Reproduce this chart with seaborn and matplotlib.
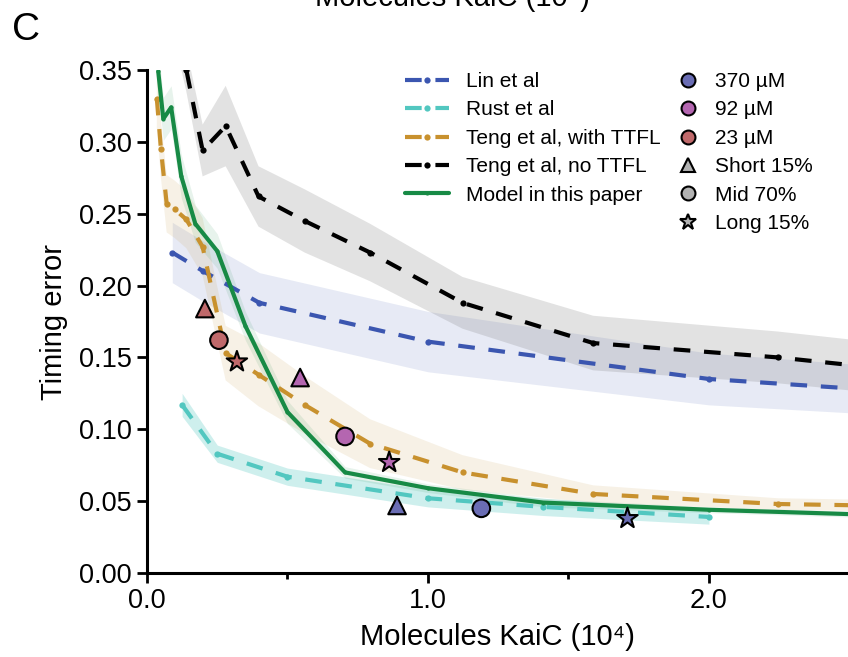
import numpy as np
import matplotlib
matplotlib.use("Agg")
import matplotlib.pyplot as plt
import seaborn as sns
from matplotlib.lines import Line2D

# Lin et al
lin_x = [0.09, 0.2, 0.4, 1.0, 2.0, 3.0]
lin_y = [0.223, 0.210, 0.188, 0.161, 0.135, 0.122]
lin_err = [0.021, 0.021, 0.021, 0.021, 0.018, 0.016]

# Rust et al
rust_x = [0.125, 0.25, 0.5, 1.0, 1.41, 2.0]
rust_y = [0.117, 0.083, 0.067, 0.052, 0.046, 0.039]
rust_err = [0.008, 0.006, 0.006, 0.006, 0.006, 0.005]

# Teng et al, with TTFL
ttfl_x = [0.035, 0.0496, 0.07, 0.099, 0.14, 0.198, 0.28, 0.397, 0.561, 0.794, 1.123, 1.588, 2.246, 3.175]
ttfl_y = [0.330, 0.295, 0.257, 0.253, 0.246, 0.227, 0.153, 0.138, 0.117, 0.090, 0.070, 0.055, 0.048, 0.045]
ttfl_err = [0.02, 0.02, 0.02, 0.02, 0.02, 0.02, 0.019, 0.022, 0.02, 0.017, 0.012, 0.006, 0.004, 0.004]

# Teng et al, no TTFL
nottfl_x = [0.099, 0.14, 0.198, 0.28, 0.397, 0.561, 0.794, 1.123, 1.588, 2.246, 3.175]
nottfl_y = [0.39, 0.350, 0.294, 0.311, 0.262, 0.245, 0.223, 0.188, 0.160, 0.150, 0.131]
nottfl_err = [0.02, 0.015, 0.018, 0.028, 0.021, 0.022, 0.02, 0.018, 0.019, 0.018, 0.017]

# Model in this paper
model_x = [0.04, 0.058, 0.086, 0.122, 0.172, 0.25, 0.35, 0.5, 0.705, 1.0, 1.41, 2.0, 2.83]
model_y = [0.349, 0.316, 0.324, 0.276, 0.243, 0.224, 0.172, 0.112, 0.070, 0.059, 0.049, 0.044, 0.039]
model_err = [0.015, 0.015, 0.015, 0.015, 0.013, 0.012, 0.01, 0.008, 0.004, 0.003, 0.003, 0.002, 0.002]

# experimental points
sc_conc = ["23 µM"] * 3 + ["92 µM"] * 3 + ["370 µM"] * 3
sc_len = ["Short 15%", "Mid 70%", "Long 15%"] * 3
sc_x = [0.206, 0.256, 0.32, 0.545, 0.705, 0.862, 0.89, 1.19, 1.71]
sc_y = [0.184, 0.162, 0.147, 0.136, 0.095, 0.077, 0.047, 0.045, 0.038]

conc_colors = {"370 µM": "#6a6db4", "92 µM": "#b466b0", "23 µM": "#c0696b"}
shape_map = {"Short 15%": "^", "Mid 70%": "o", "Long 15%": "*"}
shape_sizes = {"Short 15%": 160, "Mid 70%": 160, "Long 15%": 240}

sns.set_style("ticks", {"text.color": "black", "axes.labelcolor": "black",
                        "xtick.color": "black", "ytick.color": "black",
                        "axes.edgecolor": "black"})
plt.rcParams["font.family"] = ["Liberation Sans", "DejaVu Sans"]

fig = plt.figure(figsize=(8.48, 6.57), dpi=100)
ax = fig.add_axes([147 / 848, 84 / 657, 701 / 848, 503 / 657])

dash = (0, (4.0, 3.3))
series = [
    ("Lin et al", lin_x, lin_y, lin_err, "#3b56b0", "#3b56b0", 0.12, dash, 4.5),
    ("Rust et al", rust_x, rust_y, rust_err, "#52c7c0", "#52c7c0", 0.28, dash, 4.5),
    ("Teng et al, with TTFL", ttfl_x, ttfl_y, ttfl_err, "#c8912e", "#c8a050", 0.14, dash, 4.5),
    ("Teng et al, no TTFL", nottfl_x, nottfl_y, nottfl_err, "black", "#707070", 0.2, dash, 4.5),
    ("Model in this paper", model_x, model_y, model_err, "#178a45", "#178a45", 0.1, "-", 3),
]

handles = []
for label, x, y, err, col, bcol, alpha, ls, ms in series:
    x = np.array(x)
    y = np.array(y)
    e = np.array(err)
    ax.fill_between(x, y - e, y + e, color=bcol, alpha=alpha, lw=0, zorder=1)
    sns.lineplot(x=x, y=y, ax=ax, color=col, lw=3, linestyle=ls, marker="o",
                 ms=ms, mec=col, mew=0, errorbar=None, legend=False, zorder=2)
    handles.append(Line2D([], [], color=col, lw=3, linestyle=ls, marker="o",
                          ms=ms, mec=col, mew=0, label=label))

sns.scatterplot(x=sc_x, y=sc_y, hue=sc_conc, style=sc_len, size=sc_len,
                palette=conc_colors, markers=shape_map, sizes=shape_sizes,
                edgecolor="black", linewidth=1.5, legend=False, ax=ax, zorder=3)

ax.set_xlim(0, 2.495)
ax.set_ylim(0, 0.35)
ax.set_xticks([0, 1, 2])
ax.set_xticklabels(["0.0", "1.0", "2.0"])
ax.set_xticks([0.5, 1.5], minor=True)
ax.set_yticks(np.arange(0, 0.351, 0.05))
ax.set_yticklabels([f"{v:.2f}" for v in np.arange(0, 0.351, 0.05)])
sns.despine(ax=ax)
for s in ["left", "bottom"]:
    ax.spines[s].set_linewidth(2.2)
ax.tick_params(axis="both", which="major", length=7, width=2, labelsize=19.5, pad=4)
ax.tick_params(axis="x", which="minor", length=4, width=2)
ax.set_xlabel("Molecules KaiC (10⁴)", fontsize=21, labelpad=6)
ax.set_ylabel("Timing error", fontsize=21, labelpad=8)

leg1 = fig.legend(handles=handles, loc="upper left", bbox_to_anchor=(0.468, 0.903),
                  frameon=False, fontsize=15, handlelength=2.1, handletextpad=0.8,
                  borderaxespad=0, labelspacing=0.45, numpoints=1)

conc_handles = [Line2D([], [], ls="", marker="o", ms=10, mfc=conc_colors[c], mec="black",
                       mew=1.5, label=c) for c in ["370 µM", "92 µM", "23 µM"]]
shape_handles = [Line2D([], [], ls="", marker=shape_map[k], ms=10 if k != "Long 15%" else 12,
                        mfc="#b3b3b3", mec="black", mew=1.5, label=k)
                 for k in ["Short 15%", "Mid 70%", "Long 15%"]]
leg2 = fig.legend(handles=conc_handles + shape_handles, loc="upper left",
                  bbox_to_anchor=(0.789, 0.903), frameon=False, fontsize=15,
                  handlelength=1.0, handletextpad=0.8, borderaxespad=0,
                  labelspacing=0.45)

fig.text(0.014, 0.954, "C", fontsize=28, va="center", ha="left")
fig.text(0.533, 1 - 6 / 657, "Molecules KaiC (10⁴)", fontsize=21, ha="center", va="baseline")

fig.savefig("out.png", dpi=100)
